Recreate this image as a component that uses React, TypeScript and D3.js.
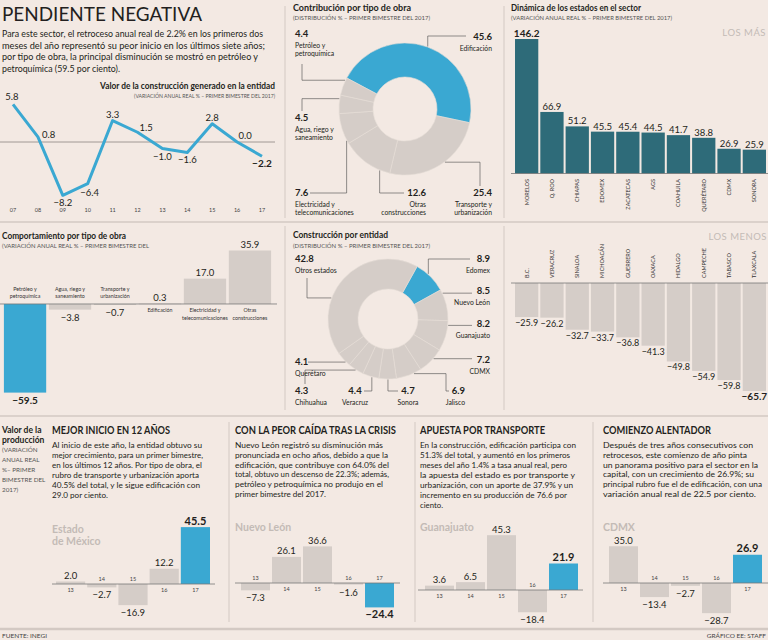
import React from "react";
import * as d3 from "d3";

// ---- datos ----
const lineYears = ["07", "08", "09", "10", "11", "12", "13", "14", "15", "16", "17"];
const lineValues = [5.8, 0.8, -8.2, -6.4, 3.3, 1.5, -1.0, -1.6, 2.8, 0.0, -2.2];

const obraNames = [
  ["Edificación"],
  ["Transporte y", "urbanización"],
  ["Otras", "construcciones"],
  ["Electricidad y", "telecomunicaciones"],
  ["Agua, riego y", "saneamiento"],
  ["Petróleo y", "petroquímica"],
];
const obraShare = [45.6, 25.4, 12.6, 7.6, 4.5, 4.4];

const topStates = ["MORELOS", "Q. ROO", "CHIAPAS", "EDOMEX", "ZACATECAS", "AGS", "COAHUILA", "QUERÉTARO", "CDMX", "SONORA"];
const topStateValues = [146.2, 66.9, 51.2, 45.5, 45.4, 44.5, 41.7, 38.8, 26.9, 25.9];

const bottomStates = ["B.C.", "VERACRUZ", "SINALOA", "MICHOACÁN", "GUERRERO", "OAXACA", "HIDALGO", "CAMPECHE", "TABASCO", "TLAXCALA"];
const bottomStateValues = [-25.9, -26.2, -32.7, -33.7, -36.8, -41.3, -49.8, -54.9, -59.8, -65.7];

const typeNames = [
  ["Petróleo y", "petroquímica"],
  ["Agua, riego y", "saneamiento"],
  ["Transporte y", "urbanización"],
  ["Edificación"],
  ["Electricidad y", "telecomunicaciones"],
  ["Otras", "construcciones"],
];
const typeValues = [-59.5, -3.8, -0.7, 0.3, 17.0, 35.9];

const entityNames = [
  ["Edomex"], ["Nuevo León"], ["Guanajuato"], ["CDMX"], ["Jalisco"],
  ["Sonora"], ["Veracruz"], ["Chihuahua"], ["Querétaro"], ["Otros estados"],
];
const entityShare = [8.9, 8.5, 8.2, 7.2, 6.9, 4.7, 4.4, 4.3, 4.1, 42.8];

const panelYears = ["13", "14", "15", "16", "17"];
const edomexValues = [2.0, -2.7, -16.9, 12.2, 45.5];
const nuevoLeonValues = [-7.3, 26.1, 36.6, -1.6, -24.4];
const guanajuatoValues = [3.6, 6.5, 45.3, -18.4, 21.9];
const cdmxValues = [35.0, -13.4, -2.7, -28.7, 26.9];

// ---- estilo ----
const BG = "#f3e9e3";
const INK = "#231f20";
const BLUE = "#3aa8d2";
const TEAL = "#2e6b79";
const GRAY = "#d5cdc8";
const SOFT = "#c3bbb6";
const RULE = "#d3c9c3";
const FONT = "Lato, 'Noto Sans', sans-serif";
const fmt = d3.format(".1f");
const rad = (deg: number) => (deg * Math.PI) / 180;

// texto con ancho opcional forzado
const T = ({ x, y, children, size = 9, weight = 400, anchor = "start", fill = INK, w, ls, transform, dy }: any) => (
  <text
    x={x}
    y={y}
    dy={dy}
    transform={transform}
    fontSize={size}
    fontWeight={weight}
    textAnchor={anchor}
    fill={fill}
    letterSpacing={ls}
    textLength={w}
    lengthAdjust={w ? "spacingAndGlyphs" : undefined}
  >
    {children}
  </text>
);

const Para = ({ x, y, lh, size, lines }: { x: number; y: number; lh: number; size: number; lines: [string, number][] }) => (
  <g>
    {lines.map(([s, w], i) => (
      <T key={i} x={x} y={y + i * lh} size={size} w={w}>{s}</T>
    ))}
  </g>
);

// ---- gráfica de línea ----
function LineChart() {
  const x = d3.scalePoint<string>().domain(lineYears).range([13, 262]);
  const y = d3.scaleLinear().domain([-8.2, 5.8]).range([195.3, 104.3]);
  const line = d3.line<number>().x((_, i) => x(lineYears[i])!).y(d => y(d));
  // desplazamiento de etiquetas [dx, dy, anchor]
  const pos: [number, number, string][] = [
    [-1, -4, "middle"], [4, 1, "start"], [0, 11, "middle"], [2, 12, "middle"],
    [0, -3, "middle"], [2, -1, "start"], [0, 11, "middle"], [0, 11, "middle"],
    [0, -3, "middle"], [8, -3, "middle"], [0, 11, "middle"],
  ];
  return (
    <g>
      <T x={275} y={89} size={8.5} weight={700} anchor="end" w={175}>Valor de la construcción generado en la entidad</T>
      <T x={275} y={97.5} size={5.5} anchor="end" fill="#555" w={141}>(VARIACIÓN ANUAL REAL % – PRIMER BIMESTRE DEL 2017)</T>
      <line x1={0} x2={275} y1={y(0)} y2={y(0)} stroke="#8a8380" strokeWidth={0.8} />
      <path d={line(lineValues)!} fill="none" stroke={BLUE} strokeWidth={3} strokeLinejoin="round" />
      {lineValues.map((v, i) => (
        <T key={i} x={x(lineYears[i])! + pos[i][0]} y={y(v) + pos[i][1]} anchor={pos[i][2]}
          size={i === lineValues.length - 1 ? 10 : 9.5} weight={i === lineValues.length - 1 ? 700 : 400}>
          {fmt(v)}
        </T>
      ))}
      {lineYears.map(yr => (
        <T key={yr} x={x(yr)} y={212} size={5.5} anchor="middle" fill="#444">{yr}</T>
      ))}
    </g>
  );
}

// ---- dona genérica ----
type LabelCfg = { x: number; y: number; anchor: string; frac: number; path: [string, number][] };

function Donut({ cx, cy, R, r, start, values, names, layout, highlight }: any) {
  const pie = d3.pie<number>().sort(null).startAngle(rad(start)).endAngle(rad(start + 360));
  const arcs = pie(values);
  const arc = d3.arc<d3.PieArcDatum<number>>().innerRadius(r).outerRadius(R);
  return (
    <g>
      <g transform={`translate(${cx},${cy})`}>
        {arcs.map((a, i) => (
          <path key={i} d={arc(a)!} fill={i === highlight ? BLUE : GRAY} stroke="#e6ddd7" strokeWidth={0.6} />
        ))}
      </g>
      {arcs.map((a, i) => {
        const L: LabelCfg = layout[i];
        const ang = a.startAngle + (a.endAngle - a.startAngle) * L.frac;
        const px = cx + (R + 0.5) * Math.sin(ang);
        const py = cy - (R + 0.5) * Math.cos(ang);
        const d = `M${px},${py}` + L.path.map(([c, v]) => `${c}${v}`).join("");
        return (
          <g key={i}>
            <path d={d} fill="none" stroke="#4a4a4a" strokeWidth={0.6} />
            <T x={L.x} y={L.y} size={9.5} weight={700} anchor={L.anchor}>{fmt(values[i])}</T>
            {names[i].map((ln: string, j: number) => (
              <T key={j} x={L.x} y={L.y + 10.5 + j * 8.6} size={6.8} anchor={L.anchor}>{ln}</T>
            ))}
          </g>
        );
      })}
    </g>
  );
}

const obraLayout: LabelCfg[] = [
  { x: 492, y: 40, anchor: "end", frac: 0.5, path: [["V", 36], ["H", 466]] },
  { x: 492, y: 196, anchor: "end", frac: 0.45, path: [["H", 480], ["V", 186]] },
  { x: 426, y: 196, anchor: "end", frac: 0.2, path: [["V", 193], ["H", 404]] },
  { x: 295, y: 196, anchor: "start", frac: 0.1, path: [["V", 193], ["H", 310]] },
  { x: 295, y: 121, anchor: "start", frac: 0.8, path: [["H", 302], ["V", 111]] },
  { x: 295, y: 37, anchor: "start", frac: 0.85, path: [["H", 302], ["V", 64]] },
];

const entityLayout: LabelCfg[] = [
  { x: 490, y: 262, anchor: "end", frac: 0.4, path: [["V", 259], ["H", 470]] },
  { x: 490, y: 294, anchor: "end", frac: 0.12, path: [["H", 472]] },
  { x: 490, y: 327, anchor: "end", frac: 0.15, path: [["H", 472]] },
  { x: 490, y: 363, anchor: "end", frac: 0.38, path: [["H", 472]] },
  { x: 465, y: 394, anchor: "end", frac: 0.3, path: [["H", 446], ["V", 391], ["H", 449]] },
  { x: 408, y: 394, anchor: "middle", frac: 0.48, path: [["V", 391], ["H", 398]] },
  { x: 355, y: 394, anchor: "middle", frac: 0.42, path: [["V", 391], ["H", 364]] },
  { x: 295, y: 394, anchor: "start", frac: 0.5, path: [["H", 305], ["V", 384]] },
  { x: 295, y: 365, anchor: "start", frac: 0.3, path: [["H", 308]] },
  { x: 295, y: 262, anchor: "start", frac: 0.36, path: [["H", 307], ["V", 278]] },
];

// ---- barras de estados (los más) ----
function StatesTop() {
  const x = d3.scaleBand<string>().domain(topStates).range([514, 767]).paddingInner(0.08).paddingOuter(0.04);
  const y = d3.scaleLinear().domain([0, 146.2]).range([173.5, 39]);
  return (
    <g>
      <T x={511} y={11} size={9} weight={700} w={130}>Dinámica de los estados en el sector</T>
      <T x={511} y={20} size={5.5} fill="#555" w={161}>(VARIACIÓN ANUAL REAL % – PRIMER BIMESTRE DEL 2017)</T>
      <T x={766} y={36} size={9.5} anchor="end" fill={SOFT} ls={0.5}>LOS MÁS</T>
      {topStates.map((s, i) => (
        <g key={s}>
          <rect x={x(s)} y={y(topStateValues[i])} width={x.bandwidth()} height={y(0) - y(topStateValues[i])} fill={TEAL} />
          <T x={x(s)! + x.bandwidth() / 2} y={y(topStateValues[i]) - 2} anchor="middle"
            size={i === 0 ? 10 : 9.5} weight={i === 0 ? 700 : 400}>{fmt(topStateValues[i])}</T>
          <T transform={`translate(${x(s)! + x.bandwidth() / 2},179) rotate(-90)`} x={0} y={0} dy="0.35em"
            anchor="end" size={5.5} fill="#333">{s}</T>
        </g>
      ))}
      <line x1={511} x2={768} y1={y(0)} y2={y(0)} stroke="#777" strokeWidth={0.8} />
    </g>
  );
}

// ---- barras de estados (los menos) ----
function StatesBottom() {
  const x = d3.scaleBand<string>().domain(bottomStates).range([514, 767]).paddingInner(0.08).paddingOuter(0.04);
  const y = d3.scaleLinear().domain([0, -65.7]).range([269, 391]);
  const axisY = 283;
  return (
    <g>
      <T x={767} y={240} size={9.5} anchor="end" fill={SOFT} ls={0.5}>LOS MENOS</T>
      {bottomStates.map((s, i) => {
        const v = bottomStateValues[i];
        const last = i === bottomStates.length - 1;
        return (
          <g key={s}>
            <rect x={x(s)} y={axisY} width={x.bandwidth()} height={y(v) - axisY} fill={GRAY} />
            <T x={x(s)! + x.bandwidth() / 2} y={y(v) + 9} anchor="middle"
              size={last ? 10 : 9} weight={last ? 700 : 400}>{fmt(v)}</T>
            <T transform={`translate(${x(s)! + x.bandwidth() / 2},278) rotate(-90)`} x={0} y={0} dy="0.35em"
              anchor="start" size={5.5} fill="#333">{s}</T>
          </g>
        );
      })}
      <line x1={511} x2={768} y1={axisY} y2={axisY} stroke="#777" strokeWidth={0.8} />
    </g>
  );
}

// ---- comportamiento por tipo de obra ----
function TypeBars() {
  const keys = typeValues.map((_, i) => String(i));
  const x = d3.scaleBand<string>().domain(keys).range([3, 272]).paddingInner(0.06).paddingOuter(0.02);
  const y = d3.scaleLinear().domain([-59.5, 35.9]).range([392.6, 250.5]);
  const z = y(0);
  return (
    <g>
      <T x={2} y={239} size={9} weight={700} w={124}>Comportamiento por tipo de obra</T>
      <T x={2} y={247.5} size={5.5} fill="#555" w={147}>(VARIACIÓN ANUAL REAL % – PRIMER BIMESTRE DEL</T>
      {typeValues.map((v, i) => {
        const cx = x(keys[i])! + x.bandwidth() / 2;
        const neg = v < 0;
        return (
          <g key={i}>
            <rect x={x(keys[i])} y={Math.min(y(v), z)} width={x.bandwidth()} height={Math.max(Math.abs(y(v) - z), 0.8)}
              fill={i === 0 ? BLUE : GRAY} />
            <T x={cx} y={neg ? y(v) + 11 : y(v) - 3} anchor="middle" size={i === 0 ? 10 : 9.5} weight={i === 0 ? 700 : 400}>
              {fmt(v)}
            </T>
            {typeNames[i].map((ln, j) => (
              <T key={j} x={cx} y={neg ? z - 13 + j * 7 + (typeNames[i].length === 1 ? 7 : 0) : z + 8 + j * 8}
                anchor="middle" size={5.3} fill="#333">{ln}</T>
            ))}
          </g>
        );
      })}
      <line x1={0} x2={277} y1={z} y2={z} stroke="#777" strokeWidth={0.8} />
    </g>
  );
}

// ---- paneles inferiores ----
function MiniBars({ values, x0, x1, axisY, k, ax0, ax1 }: any) {
  const x = d3.scaleBand<string>().domain(panelYears).range([x0, x1]).paddingInner(0.065);
  const y = d3.scaleLinear().domain([0, 10]).range([axisY, axisY - 10 * k]);
  return (
    <g>
      {panelYears.map((yr, i) => {
        const v = values[i];
        const last = i === panelYears.length - 1;
        const cx = x(yr)! + x.bandwidth() / 2;
        const neg = v < 0;
        return (
          <g key={yr}>
            <rect x={x(yr)} y={Math.min(y(v), axisY)} width={x.bandwidth()} height={Math.abs(y(v) - axisY)}
              fill={last ? BLUE : GRAY} />
            <T x={cx} y={neg ? y(v) + 11 : y(v) - 2.5} anchor="middle" size={last ? 11 : 9.5} weight={last ? 700 : 400}>
              {fmt(v)}
            </T>
            <T x={cx} y={neg ? axisY - 3 : axisY + 7.5} anchor="middle" size={5.5} fill="#444">{yr}</T>
          </g>
        );
      })}
      <line x1={ax0} x2={ax1} y1={axisY} y2={axisY} stroke="#777" strokeWidth={0.8} />
    </g>
  );
}

const p1: [string, number][] = [
  ["Al inicio de este año, la entidad obtuvo su", 150],
  ["mejor crecimiento, para un primer bimestre,", 151],
  ["en los últimos 12 años. Por tipo de obra, el", 150],
  ["rubro de transporte y urbanización aporta", 147],
  ["40.5% del total, y le sigue edificación con", 148],
  ["29.0 por ciento.", 56],
];
const p2: [string, number][] = [
  ["Nuevo León registró su disminución más", 148],
  ["pronunciada en ocho años, debido a que la", 153],
  ["edificación, que contribuye con 64.0% del", 154],
  ["total, obtuvo un descenso de 22.3%; además,", 154],
  ["petróleo y petroquímica no produjo en el", 148],
  ["primer bimestre del 2017.", 91],
];
const p3: [string, number][] = [
  ["En la construcción, edificación participa con", 156],
  ["51.3% del total, y aumentó en los primeros", 150],
  ["meses del año 1.4% a tasa anual real, pero", 147],
  ["la apuesta del estado es por transporte y", 155],
  ["urbanización, con un aporte de 37.9% y un", 153],
  ["incremento en su producción de 76.6 por", 147],
  ["ciento.", 23],
];
const p4: [string, number][] = [
  ["Después de tres años consecutivos con", 150],
  ["retrocesos, este comienzo de año pinta", 144],
  ["un panorama positivo para el sector en la", 155],
  ["capital, con un crecimiento de 26.9%; su", 151],
  ["principal rubro fue el de edificación, con una", 159],
  ["variación anual real de 22.5 por ciento.", 153],
];
const intro: [string, number][] = [
  ["Para este sector, el retroceso anual real de 2.2% en los primeros dos", 261],
  ["meses del año representó su peor inicio en los últimos siete años;", 263],
  ["por tipo de obra, la principal disminución se mostró en petróleo y", 256],
  ["petroquímica (59.5 por ciento).", 118],
];

function BottomPanels() {
  return (
    <g>
      {/* barra lateral */}
      <T x={2} y={433} size={8.5} weight={700}>Valor de la</T>
      <T x={2} y={442.5} size={8.5} weight={700}>producción</T>
      {["(VARIACIÓN", "ANUAL REAL", "%– PRIMER", "BIMESTRE DEL", "2017)"].map((s, i) => (
        <T key={i} x={2} y={452 + i * 10} size={6.3} fill="#555">{s}</T>
      ))}

      <T x={52} y={434} size={10.5} weight={700} w={118}>MEJOR INICIO EN 12 AÑOS</T>
      <Para x={52} y={448} lh={10} size={8.4} lines={p1} />
      <T x={52} y={533} size={10.5} weight={700} fill={SOFT}>Estado</T>
      <T x={52} y={545} size={10.5} weight={700} fill={SOFT}>de México</T>
      <MiniBars values={edomexValues} x0={56} x1={210} axisY={584} k={1.25} ax0={52} ax1={215} />

      <T x={235} y={434} size={10.5} weight={700} w={161}>CON LA PEOR CAÍDA TRAS LA CRISIS</T>
      <Para x={235} y={448} lh={9.8} size={8.4} lines={p2} />
      <T x={235} y={531} size={10.5} weight={700} fill={SOFT}>Nuevo León</T>
      <MiniBars values={nuevoLeonValues} x0={241} x1={394} axisY={583} k={1.0} ax0={235} ax1={400} />

      <T x={420} y={434} size={10.5} weight={700} w={125}>APUESTA POR TRANSPORTE</T>
      <Para x={420} y={448} lh={10} size={8.4} lines={p3} />
      <T x={420} y={531} size={10.5} weight={700} fill={SOFT}>Guanajuato</T>
      <MiniBars values={guanajuatoValues} x0={425} x1={578} axisY={590} k={1.21} ax0={418} ax1={583} />

      <T x={603} y={434} size={10.5} weight={700} w={108}>COMIENZO ALENTADOR</T>
      <Para x={603} y={448} lh={9.8} size={8.4} lines={p4} />
      <T x={603} y={531} size={10.5} weight={700} fill={SOFT}>CDMX</T>
      <MiniBars values={cdmxValues} x0={609} x1={762} axisY={583} k={1.05} ax0={603} ax1={768} />

      <T x={2} y={638} size={6.5} fill="#444">FUENTE: INEGI</T>
      <T x={766} y={638} size={6.5} anchor="end" fill="#444">GRÁFICO EE: STAFF</T>
    </g>
  );
}

export default function App() {
  return (
    <svg width={768} height={640} style={{ position: "absolute", left: 0, top: 0, fontFamily: FONT }}>
      <rect width={768} height={640} fill={BG} />
      {/* separadores */}
      <g stroke={RULE}>
        <line x1={0} x2={768} y1={222} y2={222} strokeWidth={1.5} />
        <line x1={0} x2={768} y1={416} y2={416} strokeWidth={1.5} />
        <line x1={0} x2={768} y1={629} y2={629} strokeWidth={2.5} />
        <line x1={285} x2={285} y1={6} y2={218} strokeWidth={1} />
        <line x1={504} x2={504} y1={6} y2={218} strokeWidth={1} />
        <line x1={285} x2={285} y1={226} y2={410} strokeWidth={1} />
        <line x1={504} x2={504} y1={226} y2={410} strokeWidth={1} />
        <line x1={229} x2={229} y1={422} y2={622} strokeWidth={1} />
        <line x1={415} x2={415} y1={422} y2={622} strokeWidth={1} />
        <line x1={593} x2={593} y1={422} y2={622} strokeWidth={1} />
      </g>

      <T x={2} y={21} size={20} w={200}>PENDIENTE NEGATIVA</T>
      <Para x={2} y={37} lh={11.7} size={9.4} lines={intro} />
      <LineChart />

      <T x={293} y={11} size={9} weight={700} w={118}>Contribución por tipo de obra</T>
      <T x={293} y={20} size={5.5} fill="#555" w={137}>(DISTRIBUCIÓN % – PRIMER BIMESTRE DEL 2017)</T>
      <Donut cx={405} cy={109} R={66} r={32} start={-62} values={obraShare} names={obraNames} layout={obraLayout} highlight={0} />

      <StatesTop />
      <TypeBars />

      <T x={293} y={238} size={9} weight={700} w={95}>Construcción por entidad</T>
      <T x={293} y={247.5} size={5.5} fill="#555" w={137}>(DISTRIBUCIÓN % – PRIMER BIMESTRE DEL 2017)</T>
      <Donut cx={388} cy={319} R={60} r={30} start={29} values={entityShare} names={entityNames} layout={entityLayout} highlight={0} />

      <StatesBottom />
      <BottomPanels />
    </svg>
  );
}
